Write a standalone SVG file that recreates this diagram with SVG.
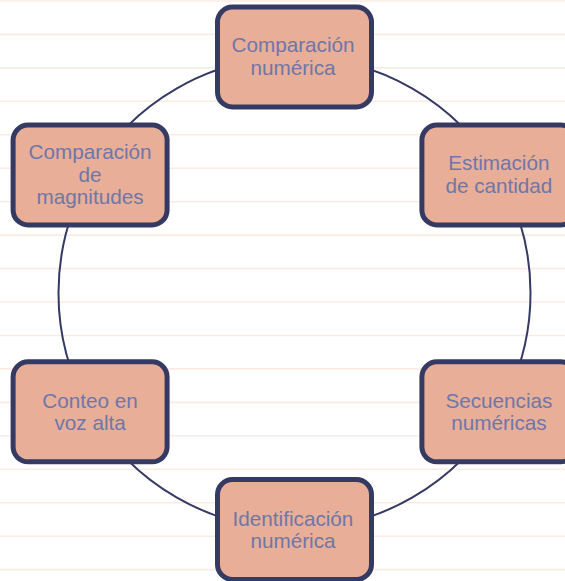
<svg xmlns="http://www.w3.org/2000/svg" width="565" height="581" viewBox="0 0 565 581">
<style>
.rule{stroke:#FCEBE3;stroke-width:1.6}
.conn{fill:none;stroke:#343A63;stroke-width:2}
.box{fill:#E8AE98;stroke:#353A62;stroke-width:5}
.lbl{font-family:"Liberation Sans",Arial,sans-serif;font-size:20.7px;fill:#6E77A8;text-anchor:middle}
</style>
<rect width="565" height="581" fill="#FFFFFF"/>
<g id="background">
<line class="rule" x1="0" y1="1" x2="565" y2="1"/>
<line class="rule" x1="0" y1="34.4" x2="565" y2="34.4"/>
<line class="rule" x1="0" y1="67.9" x2="565" y2="67.9"/>
<line class="rule" x1="0" y1="101.3" x2="565" y2="101.3"/>
<line class="rule" x1="0" y1="134.8" x2="565" y2="134.8"/>
<line class="rule" x1="0" y1="168.2" x2="565" y2="168.2"/>
<line class="rule" x1="0" y1="201.7" x2="565" y2="201.7"/>
<line class="rule" x1="0" y1="235.1" x2="565" y2="235.1"/>
<line class="rule" x1="0" y1="268.6" x2="565" y2="268.6"/>
<line class="rule" x1="0" y1="302" x2="565" y2="302"/>
<line class="rule" x1="0" y1="335.5" x2="565" y2="335.5"/>
<line class="rule" x1="0" y1="368.9" x2="565" y2="368.9"/>
<line class="rule" x1="0" y1="402.4" x2="565" y2="402.4"/>
<line class="rule" x1="0" y1="435.8" x2="565" y2="435.8"/>
<line class="rule" x1="0" y1="469.3" x2="565" y2="469.3"/>
<line class="rule" x1="0" y1="502.7" x2="565" y2="502.7"/>
<line class="rule" x1="0" y1="536.2" x2="565" y2="536.2"/>
<line class="rule" x1="0" y1="569.6" x2="565" y2="569.6"/>
</g>
<g id="connectors">
<path class="conn" d="M294.5,57 A236,236 0 0 1 498.9,175"/>
<path class="conn" d="M498.9,175 A236,236 0 0 1 498.9,411"/>
<path class="conn" d="M498.9,411 A236,236 0 0 1 294.5,529"/>
<path class="conn" d="M294.5,529 A236,236 0 0 1 90.1,411"/>
<path class="conn" d="M90.1,411 A236,236 0 0 1 90.1,175"/>
<path class="conn" d="M90.1,175 A236,236 0 0 1 294.5,57"/>
</g>
<g id="node-comparacion-numerica">
<rect class="box" x="217.5" y="7" width="154" height="100" rx="15"/>
<text class="lbl" x="293" y="52.2">Comparación</text>
<text class="lbl" x="293" y="74.5">numérica</text>
</g>
<g id="node-estimacion">
<rect class="box" x="421.9" y="125" width="154" height="100" rx="15"/>
<text class="lbl" x="498.9" y="170.4">Estimación</text>
<text class="lbl" x="498.9" y="192.7">de cantidad</text>
</g>
<g id="node-secuencias">
<rect class="box" x="421.9" y="361.8" width="154" height="100" rx="15"/>
<text class="lbl" x="498.9" y="408.3">Secuencias</text>
<text class="lbl" x="498.9" y="430.2">numéricas</text>
</g>
<g id="node-identificacion">
<rect class="box" x="217.5" y="479.5" width="154" height="100" rx="15"/>
<text class="lbl" x="293" y="525.5">Identificación</text>
<text class="lbl" x="293" y="547.6">numérica</text>
</g>
<g id="node-conteo">
<rect class="box" x="13.1" y="361.8" width="154" height="100" rx="15"/>
<text class="lbl" x="90.1" y="408.3">Conteo en</text>
<text class="lbl" x="90.1" y="430.2">voz alta</text>
</g>
<g id="node-comparacion-magnitudes">
<rect class="box" x="13.1" y="125" width="154" height="100" rx="15"/>
<text class="lbl" x="90.1" y="159.3">Comparación</text>
<text class="lbl" x="90.1" y="181.6">de</text>
<text class="lbl" x="90.1" y="203.9">magnitudes</text>
</g>
</svg>
